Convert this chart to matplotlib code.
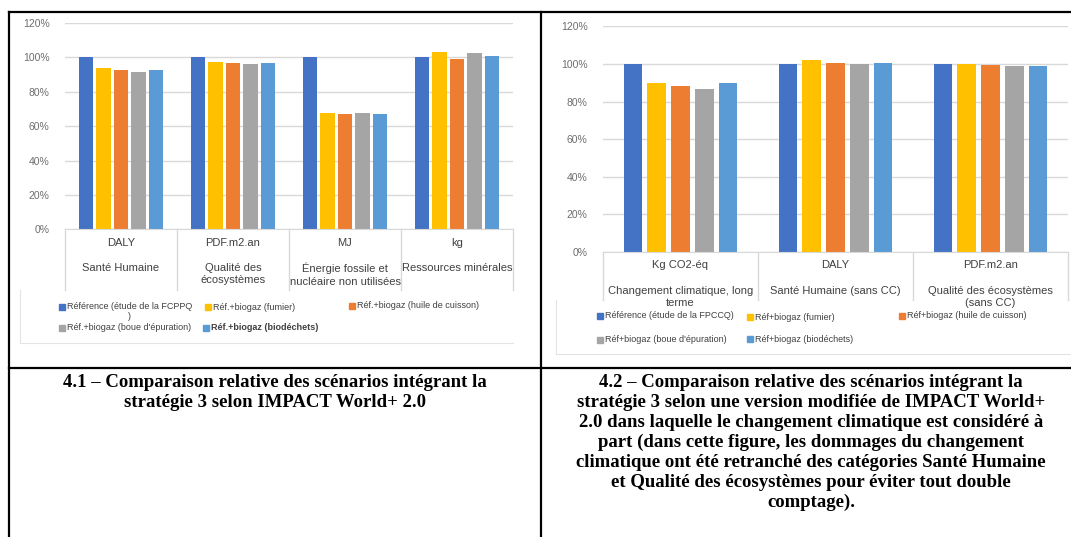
"""
Comparaison relative des scénarios (stratégie 3) - deux graphiques dans un tableau
"""

import numpy as np
import matplotlib
matplotlib.use('Agg')
import matplotlib.pyplot as plt
from matplotlib.transforms import blended_transform_factory
from matplotlib.patches import Rectangle
from matplotlib.lines import Line2D

# ---- data (% relative to reference) ----
left_units = ['DALY', 'PDF.m2.an', 'MJ', 'kg']
left_names = ['Santé Humaine', 'Qualité des\nécosystèmes',
              'Énergie fossile et\nnucléaire non utilisées', 'Ressources minérales']
left_ref = [100, 100, 100, 100]
left_fumier = [93.8, 97.1, 67.8, 102.9]
left_huile = [92.8, 96.9, 67.2, 99.2]
left_boue = [91.5, 95.9, 67.8, 102.7]
left_bio = [92.8, 96.5, 67.1, 101.0]
left_labels = ['Référence (étude de la FCPPQ\n)', 'Réf.+biogaz (fumier)',
               'Réf.+biogaz (huile de cuisson)', "Réf.+biogaz (boue d'épuration)",
               'Réf.+biogaz (biodéchets)']

right_units = ['Kg CO2-éq', 'DALY', 'PDF.m2.an']
right_names = ['Changement climatique, long\nterme', 'Santé Humaine (sans CC)',
               'Qualité des écosystèmes\n(sans CC)']
right_ref = [100, 100, 100]
right_fumier = [89.7, 101.9, 99.8]
right_huile = [88.5, 100.7, 99.6]
right_boue = [86.9, 100.0, 99.1]
right_bio = [89.7, 100.5, 99.1]
right_labels = ['Référence (étude de la FPCCQ)', 'Réf+biogaz (fumier)',
                'Réf+biogaz (huile de cuisson)', "Réf+biogaz (boue d'épuration)",
                'Réf+biogaz (biodéchets)']

yticks = [0, 20, 40, 60, 80, 100, 120]

caption1 = ('4.1 – Comparaison relative des scénarios intégrant la\n'
            'stratégie 3 selon IMPACT World+ 2.0')
caption2 = ('4.2 – Comparaison relative des scénarios intégrant la\n'
            'stratégie 3 selon une version modifiée de IMPACT World+\n'
            '2.0 dans laquelle le changement climatique est considéré à\n'
            'part (dans cette figure, les dommages du changement\n'
            'climatique ont été retranché des catégories Santé Humaine\n'
            'et Qualité des écosystèmes pour éviter tout double\n'
            'comptage).')

colors = ['#4472C4', '#FFC000', '#ED7D31', '#A5A5A5', '#5B9BD5']

W, H = 1071, 537
SANS = 'Liberation Sans'


def fx(x):
    return x / W


def fy(y):
    return 1 - y / H


fig = plt.figure(figsize=(W / 100, H / 100), dpi=100)
fig.patch.set_facecolor('white')


def chart(box, units, names, series, bar_w, step, unit_y, name_y, sep_y, ypad):
    left, top, right, bottom = box
    ax = fig.add_axes([fx(left), fy(bottom), (right - left) / W, (bottom - top) / H])
    n = len(units)
    x = np.arange(n)
    for i, vals in enumerate(series):
        ax.bar(x + (i - 2) * step, vals, width=bar_w, color=colors[i], zorder=3)
    ax.set_xlim(-0.5, n - 0.5)
    ax.set_ylim(0, 120)
    ax.set_yticks(yticks)
    ax.set_yticklabels(['%d%%' % v for v in yticks], fontsize=7.5,
                       color='#6E6E6E', family=SANS)
    ax.tick_params(axis='y', length=0, pad=ypad)
    ax.set_xticks([])
    ax.grid(axis='y', color='#D9D9D9', linewidth=1, zorder=0)
    for s in ['top', 'left', 'right']:
        ax.spines[s].set_visible(False)
    ax.spines['bottom'].set_color('#D9D9D9')
    ax.spines['bottom'].set_zorder(4)
    tr = blended_transform_factory(ax.transData, fig.transFigure)
    for i in range(n):
        ax.text(i, fy(unit_y), units[i], transform=tr, ha='center',
                va='center', fontsize=8, color='#404040', family=SANS,
                clip_on=False)
        ax.text(i, fy(name_y), names[i], transform=tr, ha='center', va='top',
                fontsize=8, color='#404040', family=SANS, linespacing=1.3,
                clip_on=False)
    for b in np.arange(n + 1) - 0.5:
        ax.add_line(Line2D([b, b], [fy(bottom), fy(sep_y)], transform=tr,
                           color='#D9D9D9', linewidth=1, clip_on=False))
    return ax


def legend_item(x, y, color, label, bold=False, multiline=False):
    fig.add_artist(Rectangle((fx(x - 3), fy(y + 3)), 6 / W, 6 / H,
                             transform=fig.transFigure, color=color))
    if multiline:
        fig.text(fx(x + 5), fy(y - 5), label, ha='left', va='top', fontsize=6.5,
                 color='#404040', family=SANS, multialignment='center',
                 linespacing=1.1, fontweight='bold' if bold else 'normal')
    else:
        fig.text(fx(x + 5), fy(y), label, ha='left', va='center', fontsize=6.5,
                 color='#404040', family=SANS,
                 fontweight='bold' if bold else 'normal')


# left chart
chart((65, 22.9, 513, 229.3), left_units, left_names,
      [left_ref, left_fumier, left_huile, left_boue, left_bio],
      bar_w=0.128, step=0.155, unit_y=243, name_y=263, sep_y=290, ypad=11)
legend_item(62, 307, colors[0], left_labels[0], multiline=True)
legend_item(208, 307, colors[1], left_labels[1])
legend_item(352, 306, colors[2], left_labels[2])
legend_item(62, 328, colors[3], left_labels[3])
legend_item(206, 328, colors[4], left_labels[4], bold=True)

# right chart (third category cut at the edge of the page)
chart((603, 26.4, 1068, 252), right_units, right_names,
      [right_ref, right_fumier, right_huile, right_boue, right_bio],
      bar_w=0.119, step=0.154, unit_y=265.5, name_y=286, sep_y=300, ypad=11)
legend_item(600, 316, colors[0], right_labels[0])
legend_item(750, 317, colors[1], right_labels[1])
legend_item(902, 316, colors[2], right_labels[2])
legend_item(600, 340, colors[3], right_labels[3])
legend_item(750, 339, colors[4], right_labels[4])

# faint borders of the pasted chart images
for xs, ys in [([20, 20], [290, 343]), ([20, 513], [343, 343]),
               ([556, 556], [300, 354]), ([556, 1071], [354, 354])]:
    fig.add_artist(Line2D([fx(v) for v in xs], [fy(v) for v in ys],
                          transform=fig.transFigure, color='#E3E3E3', linewidth=0.8))

# table borders
for xs, ys in [([9, 9], [12, 537]), ([9, 1071], [12, 12]),
               ([541, 541], [12, 537]), ([9, 1071], [368, 368])]:
    fig.add_artist(Line2D([fx(v) for v in xs], [fy(v) for v in ys],
                          transform=fig.transFigure, color='black', linewidth=1.6))

# captions
fig.text(fx(275), fy(374), caption1, ha='center', va='top', fontsize=13.5,
         family='Liberation Serif', fontweight='bold', linespacing=1.22)
fig.text(fx(811), fy(374), caption2, ha='center', va='top', fontsize=13.5,
         family='Liberation Serif', fontweight='bold', linespacing=1.22)

plt.savefig('out.png', dpi=100)
